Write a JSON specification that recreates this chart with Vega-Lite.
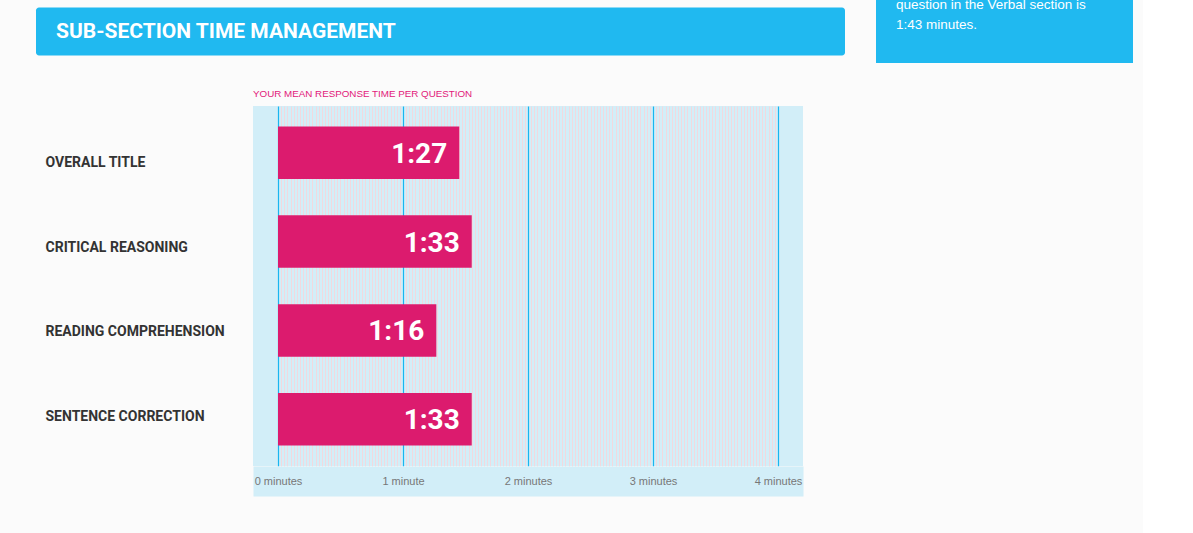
{
  "$schema": "https://vega.github.io/schema/vega-lite/v6.json",
  "background": "#fbfbfb",
  "padding": {"left": 36, "top": 0, "right": 10, "bottom": 49},
  "bounds": "full",
  "spacing": 26,
  "config": {"font": "Liberation Sans", "view": {"stroke": null}},
  "vconcat": [
    {
      "hconcat": [
        {
          "width": 809,
          "height": 48,
          "view": {"fill": "#20b9f0", "stroke": null, "cornerRadius": 3},
          "data": {"values": [{"text": "SUB-SECTION TIME MANAGEMENT"}]},
          "mark": {"type": "text", "align": "left", "baseline": "middle", "dx": -384.5, "dy": 0, "font": "Roboto", "fontWeight": "bold", "fontSize": 21, "color": "#ffffff"},
          "encoding": {"text": {"field": "text"}}
        },
        {
          "width": 257,
          "height": 63,
          "view": {"fill": "#20b9f0", "stroke": null},
          "data": {"values": [{"lines": ["question in the Verbal section is", "1:43 minutes."]}]},
          "mark": {"type": "text", "clip": true, "align": "left", "baseline": "alphabetic", "dx": -108.5, "dy": -23, "lineHeight": 20, "font": "Liberation Sans", "fontSize": 13.5, "color": "#ffffff"},
          "encoding": {"text": {"field": "lines"}}
        }
      ],
      "spacing": 31,
      "bounds": "flush",
      "center": true
    },
    {
      "hconcat": [
        {
          "width": 217,
          "height": 360,
          "view": {"stroke": null},
          "data": {"values": []},
          "mark": {"type": "text"},
          "encoding": {}
        },
        {
          "width": 550,
          "height": 360,
          "view": {"fill": "#d2eef8", "stroke": null},
          "title": {"text": "YOUR MEAN RESPONSE TIME PER QUESTION", "anchor": "start", "frame": "group", "fontSize": 9.8, "font": "Liberation Sans", "fontWeight": "normal", "color": "#e2197a", "offset": 7},
          "data": {"values": [
            {"section": "OVERALL TITLE", "minutes": 1.45, "label": "1:27"},
            {"section": "CRITICAL REASONING", "minutes": 1.55, "label": "1:33"},
            {"section": "READING COMPREHENSION", "minutes": 1.2667, "label": "1:16"},
            {"section": "SENTENCE CORRECTION", "minutes": 1.55, "label": "1:33"}
          ]},
          "encoding": {
            "y": {
              "field": "section", "type": "nominal", "sort": null,
              "scale": {"paddingInner": 0.41, "paddingOuter": 0.23},
              "axis": {
                "title": null, "domain": false, "ticks": false, "tickSize": 0, "grid": false,
                "labelAlign": "left", "labelBaseline": "middle", "labelPadding": 208, "labelLimit": 0,
                "labelFont": "Roboto", "labelFontWeight": "bold", "labelFontSize": 14, "labelColor": "#333333",
                "labelOffset": {"condition": [
                  {"test": "datum.value === 'OVERALL TITLE'", "value": 10},
                  {"test": "datum.value === 'CRITICAL REASONING'", "value": 6},
                  {"test": "datum.value === 'READING COMPREHENSION'", "value": 2}
                ], "value": -2}
              }
            }
          },
          "layer": [
            {
              "mark": {"type": "bar", "color": "#dc1b6e"},
              "encoding": {
                "x": {
                  "field": "minutes", "type": "quantitative",
                  "scale": {"domain": [-0.2, 4.2], "nice": false, "zero": false},
                  "axis": {
                    "orient": "bottom", "title": null, "labels": false, "ticks": false, "tickSize": 0,
                    "offset": 15, "domain": true, "domainColor": "#d2eef8", "domainWidth": 30, "domainCap": "butt",
                    "grid": true, "gridOpacity": 1,
                    "gridWidth": {"condition": {"test": "datum.value % 1 === 0", "value": 1.2}, "value": 1},
                    "gridColor": {"condition": {"test": "datum.value % 1 === 0", "value": "#19b5f0"}, "value": "#f1d9df"},
                    "values": [0,0.025,0.05,0.075,0.1,0.125,0.15,0.175,0.2,0.225,0.25,0.275,0.3,0.325,0.35,0.375,0.4,0.425,0.45,0.475,0.5,0.525,0.55,0.575,0.6,0.625,0.65,0.675,0.7,0.725,0.75,0.775,0.8,0.825,0.85,0.875,0.9,0.925,0.95,0.975,
                      1,1.025,1.05,1.075,1.1,1.125,1.15,1.175,1.2,1.225,1.25,1.275,1.3,1.325,1.35,1.375,1.4,1.425,1.45,1.475,1.5,1.525,1.55,1.575,1.6,1.625,1.65,1.675,1.7,1.725,1.75,1.775,1.8,1.825,1.85,1.875,1.9,1.925,1.95,1.975,
                      2,2.025,2.05,2.075,2.1,2.125,2.15,2.175,2.2,2.225,2.25,2.275,2.3,2.325,2.35,2.375,2.4,2.425,2.45,2.475,2.5,2.525,2.55,2.575,2.6,2.625,2.65,2.675,2.7,2.725,2.75,2.775,2.8,2.825,2.85,2.875,2.9,2.925,2.95,2.975,
                      3,3.025,3.05,3.075,3.1,3.125,3.15,3.175,3.2,3.225,3.25,3.275,3.3,3.325,3.35,3.375,3.4,3.425,3.45,3.475,3.5,3.525,3.55,3.575,3.6,3.625,3.65,3.675,3.7,3.725,3.75,3.775,3.8,3.825,3.85,3.875,3.9,3.925,3.95,3.975,4]
                  }
                },
                "x2": {"datum": 0}
              }
            },
            {
              "mark": {"type": "text", "align": "right", "baseline": "middle", "dx": -12, "dy": 2, "font": "Roboto", "fontWeight": "bold", "fontSize": 28, "color": "#ffffff"},
              "encoding": {
                "x": {
                  "field": "minutes", "type": "quantitative",
                  "axis": {
                    "orient": "bottom", "title": null, "domain": false, "ticks": false, "tickSize": 0, "grid": false,
                    "offset": 15, "labelPadding": 0, "labelBaseline": "middle",
                    "values": [0, 1, 2, 3, 4],
                    "labelExpr": "datum.value === 1 ? '1 minute' : datum.value + ' minutes'",
                    "labelFont": "Liberation Sans", "labelFontSize": 11, "labelColor": "#777777",
                    "labelOverlap": false, "labelFlush": false
                  }
                },
                "text": {"field": "label"}
              }
            }
          ],
          "resolve": {"axis": {"x": "independent"}}
        }
      ],
      "spacing": 0,
      "bounds": "flush"
    }
  ]
}
